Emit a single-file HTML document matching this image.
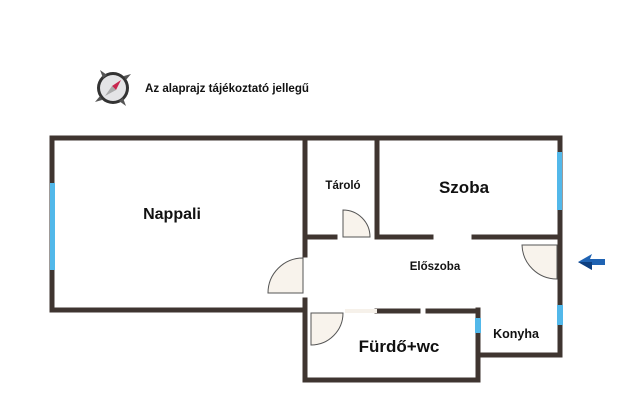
<!DOCTYPE html>
<html><head><meta charset="utf-8"><style>
html,body{margin:0;padding:0;background:#fff;}
svg{display:block;}
text{font-family:"Liberation Sans",Arial,sans-serif;font-weight:bold;fill:#111;}
</style></head><body>
<svg width="640" height="417" viewBox="0 0 640 417" xmlns="http://www.w3.org/2000/svg">
<!-- compass -->
<g>
<circle cx="113" cy="88" r="16" fill="#333"/>
<polygon points="100,70 107,75 103,78" fill="#555"/>
<polygon points="126,106 119,101 123,98" fill="#555"/>
<polygon points="131,74 126,80 124,76" fill="#555"/>
<polygon points="95,102 100,96 102,100" fill="#555"/>
<circle cx="113" cy="88" r="13" fill="#e4e4e6"/>
<polygon points="121,80 112,86 116,90" fill="#c8264e"/>
<polygon points="105,96 112,86 116,90" fill="#aaa"/>
</g>
<text x="145" y="92" font-size="11.5" textLength="164" lengthAdjust="spacingAndGlyphs">Az alaprajz tájékoztató jellegű</text>

<g stroke="#3f3530" stroke-width="5" fill="none" stroke-linecap="square">
<path d="M52 138 H560 V355 H478"/>
<path d="M52 138 V310 H305"/>
<path d="M478 310 V380 H305 V300"/>
<path d="M305 138 V255"/>
<path d="M377 138 V237"/>
<path d="M307 237 H335"/>
<path d="M377 237 H431"/>
<path d="M474 237 H560"/>
<path d="M377 311 H418"/>
<path d="M428 311 H478"/>
</g>
<!-- windows -->
<rect x="50" y="183" width="5" height="87" fill="#52b8ea"/>
<rect x="557" y="152" width="5" height="58" fill="#52b8ea"/>
<rect x="557" y="305" width="6" height="20" fill="#52b8ea"/>
<rect x="475" y="318" width="6" height="15" fill="#52b8ea"/>
<rect x="345" y="309" width="32" height="4" fill="#f6f1ea"/>
<!-- doors -->
<g fill="#f8f3ec" stroke="#555" stroke-width="1">
<path d="M303 293 H268 A35 35 0 0 1 303 258 Z"/>
<path d="M343 237 V210 A27 27 0 0 1 370 237 Z"/>
<path d="M311 313 V345 A32 32 0 0 0 343 313 Z"/>
<path d="M557 245 H522 A35 35 0 0 0 557 279 Z"/>
</g>
<!-- arrow -->
<polygon points="578,262 592,254 590,259 605,259 605,265 590,265 592,270" fill="#1f63b3"/>
<polygon points="578,262 592,262 592,270" fill="#0d3f80"/>
<!-- labels -->
<text x="172" y="219" font-size="16" text-anchor="middle">Nappali</text>
<text x="343" y="189" font-size="11.5" text-anchor="middle">Tároló</text>
<text x="464" y="193" font-size="17" text-anchor="middle">Szoba</text>
<text x="435" y="270" font-size="11.5" text-anchor="middle">Előszoba</text>
<text x="399" y="352" font-size="17" text-anchor="middle">Fürdő+wc</text>
<text x="516" y="338" font-size="12.5" text-anchor="middle">Konyha</text>
</svg>
</body></html>
